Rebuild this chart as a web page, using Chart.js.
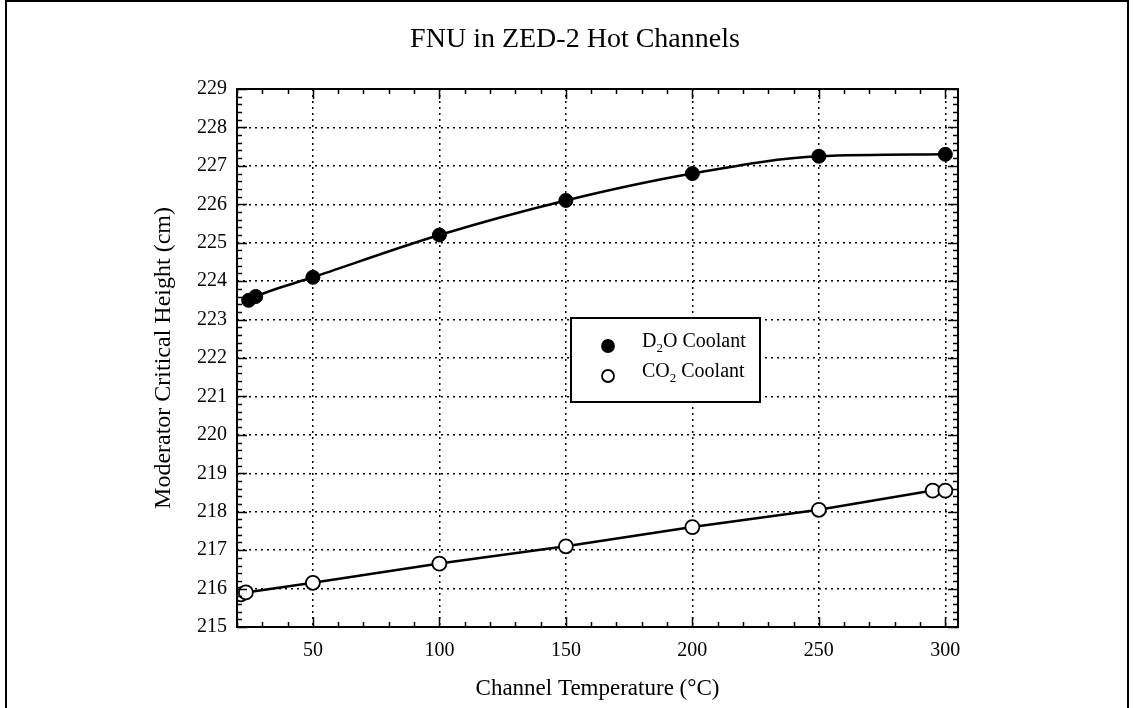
<!DOCTYPE html>
<html>
<head>
<meta charset="utf-8">
<script src="https://cdn.jsdelivr.net/npm/chart.js@4/dist/chart.umd.min.js"></script>
<style>
  html, body { margin: 0; padding: 0; background: #fff; }
  #wrap { position: relative; width: 1134px; height: 708px; overflow: hidden; }
  #frame {
    position: absolute; left: 5px; top: 0; width: 1124px; height: 730px;
    border: 2px solid #000; box-sizing: border-box;
  }
  #chart { position: absolute; left: 0; top: 0; }
</style>
</head>
<body>
<div id="wrap">
  <div id="frame"></div>
  <canvas id="chart" width="1134" height="708"></canvas>
</div>
<script>
// DATA
const d2oTemp = [24.6, 27.4, 50, 100, 150, 200, 250, 300];
const d2oHeight = [223.5, 223.6, 224.1, 225.2, 226.1, 226.8, 227.25, 227.3];

const co2Temp = [21.5, 23.5, 50, 100, 150, 200, 250, 295, 300];
const co2Height = [215.85, 215.9, 216.15, 216.65, 217.1, 217.6, 218.05, 218.55, 218.55];

const xTicks = [50, 100, 150, 200, 250, 300];
const yTicks = [215, 216, 217, 218, 219, 220, 221, 222, 223, 224, 225, 226, 227, 228, 229];

const chartTitle = "FNU in ZED-2 Hot Channels";
const seriesNames = ["D2O Coolant", "CO2 Coolant"];

const SERIF = "'Liberation Serif', 'DejaVu Serif', serif";

function toPoints(xs, ys) {
  return xs.map((x, i) => ({ x: x, y: ys[i] }));
}

// inward ticks, box round the plot, title and legend
const frameTicks = {
  id: "frameTicks",
  afterDatasetsDraw(chart) {
    const { ctx, chartArea: a, scales: { x, y } } = chart;
    ctx.save();
    ctx.strokeStyle = "#000";
    ctx.lineWidth = 1.5;
    ctx.beginPath();
    // x ticks every 10, major at labelled values
    for (let v = Math.ceil(x.min / 10) * 10; v <= x.max; v += 10) {
      const px = Math.round(x.getPixelForValue(v)) + 0.5;
      const len = xTicks.includes(v) ? 10 : 5;
      ctx.moveTo(px, a.bottom); ctx.lineTo(px, a.bottom - len);
      ctx.moveTo(px, a.top); ctx.lineTo(px, a.top + len);
    }
    // y ticks every 0.2
    const steps = Math.round((y.max - y.min) * 5);
    for (let i = 0; i <= steps; i++) {
      const v = y.min + i / 5;
      const py = Math.round(y.getPixelForValue(v)) + 0.5;
      const len = i % 5 === 0 ? 10 : 5;
      ctx.moveTo(a.left, py); ctx.lineTo(a.left + len, py);
      ctx.moveTo(a.right, py); ctx.lineTo(a.right - len, py);
    }
    ctx.stroke();
    ctx.lineWidth = 2;
    ctx.strokeRect(a.left, a.top, a.right - a.left, a.bottom - a.top);
    ctx.restore();
  },
  afterDraw(chart) {
    const { ctx, chartArea: a } = chart;
    ctx.save();
    // title
    ctx.fillStyle = "#000";
    ctx.font = "28px " + SERIF;
    ctx.textAlign = "center";
    ctx.textBaseline = "middle";
    ctx.fillText(chartTitle, 575, 40);

    // legend box inside the plot
    const bx = a.left + 334, by = a.top + 229, bw = 189, bh = 84;
    ctx.fillStyle = "#fff";
    ctx.fillRect(bx, by, bw, bh);
    ctx.strokeStyle = "#000";
    ctx.lineWidth = 2;
    ctx.strokeRect(bx, by, bw, bh);

    const rows = [
      { y: by + 28, fill: "#000", pre: "D", post: "O Coolant" },
      { y: by + 58, fill: "#fff", pre: "CO", post: " Coolant" },
    ];
    rows.forEach((r) => {
      ctx.beginPath();
      ctx.arc(bx + 37, r.y, 6, 0, Math.PI * 2);
      ctx.fillStyle = r.fill;
      ctx.fill();
      ctx.lineWidth = 1.8;
      ctx.stroke();

      ctx.fillStyle = "#000";
      ctx.textBaseline = "middle";
      ctx.textAlign = "left";
      let tx = bx + 71;
      ctx.font = "20px " + SERIF;
      ctx.fillText(r.pre, tx, r.y - 4);
      tx += ctx.measureText(r.pre).width;
      ctx.font = "13px " + SERIF;
      ctx.fillText("2", tx, r.y + 3);
      tx += ctx.measureText("2").width;
      ctx.font = "20px " + SERIF;
      ctx.fillText(r.post, tx, r.y - 4);
    });
    ctx.restore();
  },
};

const ctx = document.getElementById("chart").getContext("2d");

new Chart(ctx, {
  type: "scatter",
  data: {
    datasets: [
      {
        label: seriesNames[0],
        data: toPoints(d2oTemp, d2oHeight),
        showLine: true,
        cubicInterpolationMode: "monotone",
        borderColor: "#000",
        borderWidth: 2.5,
        backgroundColor: "#000",
        pointRadius: 7,
        pointBorderWidth: 1,
        pointBorderColor: "#000",
      },
      {
        label: seriesNames[1],
        data: toPoints(co2Temp, co2Height),
        showLine: true,
        tension: 0,
        borderColor: "#000",
        borderWidth: 2.5,
        backgroundColor: "#fff",
        pointBackgroundColor: "#fff",
        pointRadius: 7,
        pointBorderWidth: 1.8,
        pointBorderColor: "#000",
      },
    ],
  },
  options: {
    responsive: false,
    animation: false,
    layout: { padding: { left: 0, right: 176, top: 89, bottom: 0 } },
    plugins: {
      legend: { display: false },
      tooltip: { enabled: false },
      title: { display: false },
    },
    scales: {
      x: {
        type: "linear",
        min: 20,
        max: 305,
        afterBuildTicks: (s) => { s.ticks = xTicks.map((v) => ({ value: v })); },
        afterFit: (s) => { s.height = 81; },
        grid: { color: "#000", lineWidth: 1.5, drawTicks: false },
        border: { display: false, dash: [2, 4] },
        ticks: {
          color: "#000",
          padding: 12,
          font: { family: SERIF, size: 20 },
        },
        title: {
          display: true,
          text: "Channel Temperature (°C)",
          color: "#000",
          font: { family: SERIF, size: 23 },
          padding: { top: 0, bottom: 5 },
        },
      },
      y: {
        type: "linear",
        min: 215,
        max: 229,
        afterBuildTicks: (s) => { s.ticks = yTicks.map((v) => ({ value: v })); },
        afterFit: (s) => { s.width = 237; },
        grid: { color: "#000", lineWidth: 1.5, drawTicks: false },
        border: { display: false, dash: [2, 4] },
        ticks: {
          color: "#000",
          padding: 10,
          font: { family: SERIF, size: 20 },
        },
        title: {
          display: true,
          text: "Moderator Critical Height (cm)",
          color: "#000",
          font: { family: SERIF, size: 24 },
          padding: { top: 149, bottom: 0 },
        },
      },
    },
  },
  plugins: [frameTicks],
});
</script>
</body>
</html>
